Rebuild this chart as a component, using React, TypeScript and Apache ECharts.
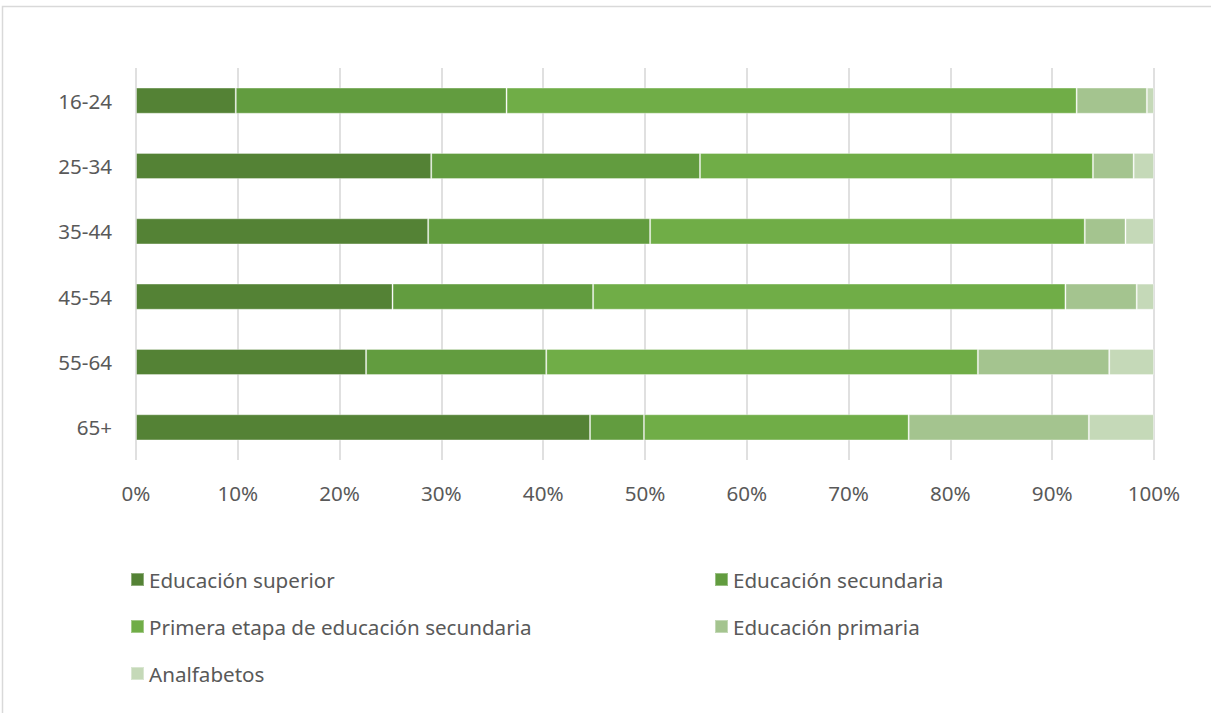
import React, { useEffect, useRef } from "react";
import * as echarts from "echarts";

const categories = ["16-24", "25-34", "35-44", "45-54", "55-64", "65+"];
const seriesNames = [
  "Educación superior",
  "Educación secundaria",
  "Primera etapa de educación secundaria",
  "Educación primaria",
  "Analfabetos",
];
const superior = [9.8, 29.0, 28.7, 25.2, 22.6, 44.6];
const secundaria = [26.6, 26.4, 21.8, 19.7, 17.7, 5.3];
const primeraEtapa = [56.0, 38.6, 42.7, 46.4, 42.4, 26.0];
const primaria = [6.9, 4.0, 4.0, 7.0, 12.9, 17.7];
const analfabetos = [0.7, 2.0, 2.8, 1.7, 4.4, 6.4];
const xTicks = [0, 10, 20, 30, 40, 50, 60, 70, 80, 90, 100];

const colors = ["#548235", "#629C3F", "#70AD47", "#A4C48F", "#C5D9B8"];
const FONT = "'Noto Sans', 'Open Sans', sans-serif";
const FS = 20.6;

export default function App() {
  const ref = useRef<HTMLDivElement>(null);
  useEffect(() => {
    if (!ref.current) return;
    const chart = echarts.init(ref.current, null, { renderer: "svg" });
    const values = [superior, secundaria, primeraEtapa, primaria, analfabetos];
    chart.setOption({
      animation: false,
      backgroundColor: "#ffffff",
      textStyle: { fontFamily: FONT },
      graphic: [
        {
          type: "rect",
          shape: { x: 2.5, y: 6.5, width: 1400, height: 900 },
          style: { fill: "none", stroke: "#d9d9d9", lineWidth: 1.5 },
          silent: true,
        },
      ],
      grid: { left: 136, right: 57, top: 68, bottom: 253, containLabel: false },
      xAxis: {
        type: "value",
        min: xTicks[0],
        max: xTicks[xTicks.length - 1],
        interval: 10,
        axisLine: { show: false },
        axisTick: { show: false },
        splitLine: { show: true, lineStyle: { color: "#d9d9d9", width: 1.6 } },
        axisLabel: {
          formatter: (v: number) => v + "%",
          color: "#595959",
          fontSize: FS,
          fontFamily: FONT,
          margin: 22,
        },
      },
      yAxis: {
        type: "category",
        data: categories,
        inverse: true,
        axisLine: { show: false },
        axisTick: { show: false },
        axisLabel: { color: "#595959", fontSize: FS, fontFamily: FONT, margin: 24 },
      },
      legend: [
        {
          data: [seriesNames[0], seriesNames[2], seriesNames[4]],
          orient: "vertical",
          left: 125,
          top: 564,
          itemGap: 26,
          itemWidth: 13,
          itemHeight: 13,
          icon: "rect",
          textStyle: { color: "#595959", fontSize: FS, fontFamily: FONT },
        },
        {
          data: [seriesNames[1], seriesNames[3]],
          orient: "vertical",
          left: 709,
          top: 564,
          itemGap: 26,
          itemWidth: 13,
          itemHeight: 13,
          icon: "rect",
          textStyle: { color: "#595959", fontSize: FS, fontFamily: FONT },
        },
      ],
      series: seriesNames.map((name, i) => ({
        name,
        type: "bar",
        stack: "total",
        data: values[i],
        barCategoryGap: "60%",
        itemStyle: {
          color: colors[i],
          borderColor: "rgba(255,255,255,0.35)",
          borderWidth: 1,
        },
      })),
    });
    return () => chart.dispose();
  }, []);
  return (
    <div
      ref={ref}
      style={{ position: "absolute", left: 0, top: 0, width: 1211, height: 713 }}
    />
  );
}
